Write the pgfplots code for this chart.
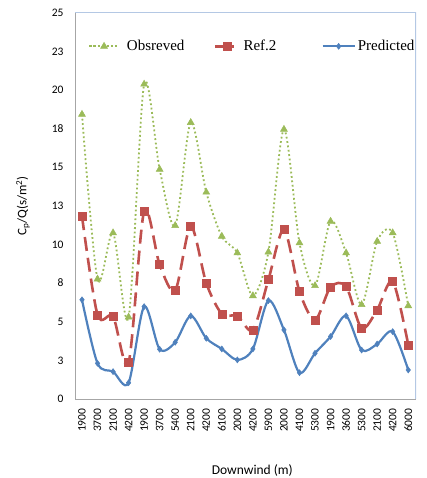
\documentclass[border=0pt]{standalone}
\usepackage{pgfplots}
\pgfplotsset{compat=1.18}
\usepackage{fontspec}
\setmainfont{Carlito}
\newfontfamily\legfont{Liberation Serif}
\definecolor{obsgreen}{HTML}{9BBB59}
\definecolor{refred}{HTML}{C0504D}
\definecolor{predblue}{HTML}{4F81BD}
\definecolor{frameblue}{HTML}{B4C8E4}
\definecolor{axisgray}{HTML}{A6A6A6}
\pgfplotsset{
  legobs/.style={legend image code/.code={\draw[mark repeat=2,mark phase=2,##1] plot coordinates {(0pt,0pt) (15pt,0pt) (30pt,0pt)};}},
  legref/.style={legend image code/.code={\draw[mark repeat=2,mark phase=2,##1, dash pattern=on 30pt off 0pt] plot coordinates {(0pt,0pt) (12pt,0pt) (18pt,0pt)};}},
  legpred/.style={legend image code/.code={\draw[mark repeat=2,mark phase=2,##1] plot coordinates {(0pt,0pt) (16pt,0pt) (32pt,0pt)};}},
}
\begin{document}
\begin{tikzpicture}[x=1pt,y=1pt]
\begin{axis}[
  at={(0pt,0pt)}, anchor=south west,
  scale only axis, width=341pt, height=386.3pt,
  xmin=-0.45, xmax=21.5, ymin=0, ymax=25,
  axis line style={draw=none},
  xtick={0,...,21},
  xticklabels={1900,3700,2100,4200,1900,3700,5400,2100,4200,6100,2000,4200,5900,2000,4100,5300,1900,3600,5300,2100,4200,6000},
  xticklabel style={rotate=90, anchor=east, font=\fontsize{11.5}{12}\selectfont},
  ytick={0,2.5,5,7.5,10,12.5,15,17.5,20,22.5,25},
  yticklabels={0,3,5,8,10,13,15,18,20,23,25},
  yticklabel style={font=\fontsize{11.5}{12}\selectfont},
  major tick length=0pt,
  xticklabel shift=6pt,
  yticklabel shift=8pt,
  /pgf/number format/assume math mode=true,
  xlabel={Downwind (m)},
  ylabel={C\textsubscript{p}/Q(s/m\textsuperscript{2})},
  xlabel style={font=\fontsize{13.5}{14}\selectfont, at={(axis description cs:0.52,0)}, anchor=center, yshift=-71pt},
  ylabel style={font=\fontsize{13}{14}\selectfont, at={(axis description cs:0,0.5)}, anchor=center, yshift=52pt},
  legend style={draw=none, fill=none, at={(axis description cs:0.038,0.913)}, anchor=west,
    font=\legfont\fontsize{15}{17}\selectfont, inner sep=0pt, row sep=0pt,
    /tikz/every even column/.append style={column sep=0pt}},
  legend columns=3,
  legend cell align=left,
]
\draw[axisgray, line width=0.8pt] (rel axis cs:0,1) -- (rel axis cs:0,0) -- (rel axis cs:1,0);
\draw[frameblue, line width=1.2pt] (rel axis cs:0,1) -- (rel axis cs:1,1) -- (rel axis cs:1,0);

\addplot[obsgreen, line width=1.8pt, dash pattern=on 1.8pt off 2.6pt, smooth, tension=0.5,
  mark=triangle*, mark size=4pt, mark options={solid, fill=obsgreen, line width=0.5pt}, legobs]
coordinates {
(0,18.42) (1,7.76) (2,10.75) (3,5.30) (4,20.37) (5,14.86) (6,11.22) (7,17.89) (8,13.38) (9,10.53) (10,9.45)
(11,6.68) (12,9.51) (13,17.45) (14,10.10) (15,7.33) (16,11.50) (17,9.45) (18,6.10) (19,10.20) (20,10.75) (21,6.03)
};
\addlegendentry{\hspace{5pt}\makebox[85pt][l]{Obsreved}}

\addplot[refred, line width=2.6pt, dash pattern=on 14pt off 7pt, smooth, tension=0.5,
  mark=square*, mark size=4pt, mark options={solid, fill=refred, line width=0.5pt}, legref]
coordinates {
(0,11.83) (1,5.45) (2,5.34) (3,2.35) (4,12.15) (5,8.69) (6,7.02) (7,11.18) (8,7.50) (9,5.51) (10,5.38)
(11,4.47) (12,7.72) (13,10.96) (14,6.96) (15,5.12) (16,7.24) (17,7.28) (18,4.58) (19,5.77) (20,7.61) (21,3.50)
};
\addlegendentry{\hspace{7pt}\makebox[76pt][l]{Ref.2}}

\addplot[predblue, line width=2.2pt, smooth, tension=0.5,
  mark=diamond*, mark size=3pt, mark options={solid, fill=predblue, line width=0.5pt}, legpred]
coordinates {
(0,6.42) (1,2.31) (2,1.77) (3,1.05) (4,5.98) (5,3.22) (6,3.67) (7,5.38) (8,3.93) (9,3.24) (10,2.53)
(11,3.24) (12,6.37) (13,4.47) (14,1.70) (15,2.96) (16,4.04) (17,5.38) (18,3.17) (19,3.56) (20,4.36) (21,1.88)
};
\addlegendentry{Predicted}
\end{axis}
\pgfresetboundingbox
\path (-75pt,-79pt) rectangle (351pt,399pt);
\end{tikzpicture}
\end{document}
